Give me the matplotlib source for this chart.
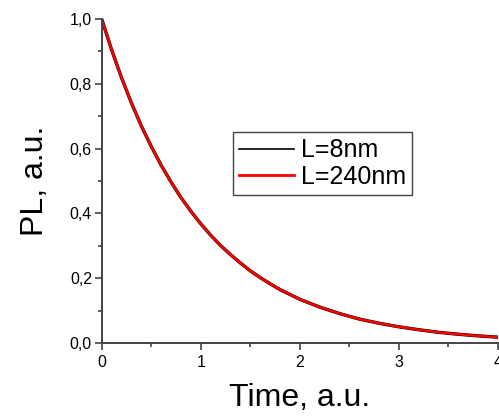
import matplotlib
matplotlib.use("Agg")
import matplotlib.pyplot as plt
from matplotlib.ticker import MultipleLocator, FuncFormatter

plt.rcParams['font.family'] = ['Liberation Sans', 'DejaVu Sans']

# values
time = [0.0, 0.1, 0.2, 0.3, 0.4, 0.5, 0.6, 0.7, 0.8, 0.9, 1.0,
        1.1, 1.2, 1.3, 1.4, 1.5, 1.6, 1.7, 1.8, 1.9, 2.0,
        2.2, 2.4, 2.6, 2.8, 3.0, 3.2, 3.4, 3.6, 3.8, 4.0]
pl_8nm = [1.0, 0.905, 0.819, 0.741, 0.670, 0.607, 0.549, 0.497, 0.449, 0.407, 0.368,
          0.333, 0.301, 0.273, 0.247, 0.223, 0.202, 0.183, 0.165, 0.150, 0.135,
          0.111, 0.091, 0.074, 0.061, 0.050, 0.041, 0.033, 0.027, 0.022, 0.018]
pl_240nm = [1.0, 0.905, 0.819, 0.741, 0.670, 0.607, 0.549, 0.497, 0.449, 0.407, 0.368,
            0.333, 0.301, 0.273, 0.247, 0.223, 0.202, 0.183, 0.165, 0.150, 0.135,
            0.111, 0.091, 0.074, 0.061, 0.050, 0.041, 0.033, 0.027, 0.022, 0.018]
labels = ["L=8nm", "L=240nm"]

fig = plt.figure(figsize=(4.99, 4.17), dpi=100)
ax = fig.add_axes([0.2038, 0.1775, 0.7936, 0.777])

ax.plot(time, pl_8nm, color="black", lw=2.4, label=labels[0])
ax.plot(time, pl_240nm, color="red", lw=1.8, label=labels[1])

ax.set_xlim(0, 4)
ax.set_ylim(0, 1.0)
ax.spines["top"].set_visible(False)
ax.spines["right"].set_visible(False)
for s in ["left", "bottom"]:
    ax.spines[s].set_color("#444444")
    ax.spines[s].set_linewidth(1.4)

ax.xaxis.set_major_locator(MultipleLocator(1))
ax.xaxis.set_minor_locator(MultipleLocator(0.5))
ax.yaxis.set_major_locator(MultipleLocator(0.2))
ax.yaxis.set_minor_locator(MultipleLocator(0.1))
ax.xaxis.set_major_formatter(FuncFormatter(lambda v, p: "%d" % v))
ax.yaxis.set_major_formatter(FuncFormatter(lambda v, p: ("%.1f" % v).replace(".", ",")))
ax.tick_params(which="major", direction="out", length=5, width=1.2, color="#444444",
               labelsize=11.5, pad=2)
ax.tick_params(which="minor", direction="out", length=3, width=1.2, color="#444444")
ax.tick_params(axis="x", pad=4)

ax.set_xlabel("Time, a.u.", fontsize=23, labelpad=9)
ax.set_ylabel("PL, a.u.", fontsize=23, labelpad=14)

leg = ax.legend(loc="upper left", bbox_to_anchor=(0.332, 0.651), fontsize=18,
                handlelength=2.2, handletextpad=0.25, labelspacing=0.1,
                borderpad=0.25, borderaxespad=0, fancybox=False, framealpha=1)
leg.get_frame().set_edgecolor("#444444")
leg.get_frame().set_linewidth(1.0)
leg.get_lines()[0].set_linewidth(1.2)
leg.get_lines()[1].set_linewidth(2.0)

fig.savefig("out.png", dpi=100)
